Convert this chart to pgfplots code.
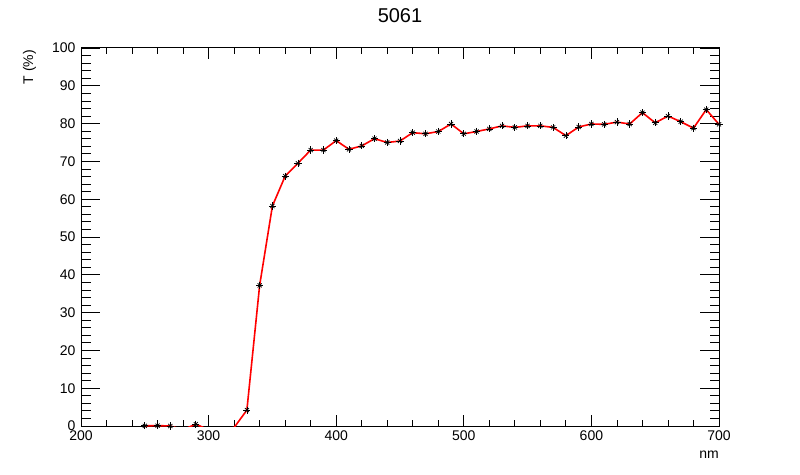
\documentclass[border=0pt]{standalone}
\usepackage{pgfplots}
\pgfplotsset{compat=1.18}
\usepackage{fontspec}
\setmainfont{Liberation Sans}
\begin{document}
\begin{tikzpicture}[x=1pt,y=1pt]
\useasboundingbox (0,0) rectangle (800,474);
\begin{axis}[
    at={(81pt,48pt)}, anchor=south west,
    scale only axis,
    width=638pt, height=378pt,
    xmin=200, xmax=700, ymin=0, ymax=100,
    xtick={200,300,...,700},
    ytick={0,10,...,100},
    minor x tick num=4,
    minor y tick num=4,
    xtick pos=both, ytick pos=both,
    tick align=inside,
    tick style={black, line width=0.8pt},
    xtick style={/pgfplots/major tick length=11pt, /pgfplots/minor tick length=5.7pt},
    ytick style={/pgfplots/major tick length=19pt, /pgfplots/minor tick length=9.5pt},
    axis line style={line width=1pt},
    ticklabel style={font=\fontsize{14}{14}\selectfont},
    xticklabel style={yshift=-1pt},
    yticklabel style={xshift=-2pt},
    /pgf/number format/assume math mode=true,
]
% transmission curve (values below zero are cut off by the frame)
\addplot[red, line width=1.6pt] coordinates {
    (250,0.05) (260,0.1) (270,0.0) (280,-1.0) (290,0.5) (300,-1.0)
    (310,-1.0) (320,-0.4) (330,4.2) (340,37.2) (350,58.2) (360,66.1)
    (370,69.5) (380,73.0) (390,73.0) (400,75.5) (410,73.2) (420,74.1)
    (430,76.0) (440,75.0) (450,75.4) (460,77.6) (470,77.3) (480,77.9)
    (490,79.9) (500,77.3) (510,77.9) (520,78.6) (530,79.4) (540,79.0)
    (550,79.4) (560,79.4) (570,79.0) (580,76.8) (590,79.1) (600,79.9)
    (610,79.8) (620,80.4) (630,79.9) (640,82.9) (650,80.2) (660,82.0)
    (670,80.5) (680,78.8) (690,83.7) (700,79.8)
};
% ROOT star markers = plus + cross
\addplot[black, only marks, mark=+, mark size=3.6pt, mark options={line width=0.7pt}] coordinates {
    (250,0.05) (260,0.1) (270,0.0) (290,0.5)
    (330,4.2) (340,37.2) (350,58.2) (360,66.1)
    (370,69.5) (380,73.0) (390,73.0) (400,75.5) (410,73.2) (420,74.1)
    (430,76.0) (440,75.0) (450,75.4) (460,77.6) (470,77.3) (480,77.9)
    (490,79.9) (500,77.3) (510,77.9) (520,78.6) (530,79.4) (540,79.0)
    (550,79.4) (560,79.4) (570,79.0) (580,76.8) (590,79.1) (600,79.9)
    (610,79.8) (620,80.4) (630,79.9) (640,82.9) (650,80.2) (660,82.0)
    (670,80.5) (680,78.8) (690,83.7) (700,79.8)
};
\addplot[black, only marks, mark=x, mark size=2.9pt, mark options={line width=0.7pt}] coordinates {
    (250,0.05) (260,0.1) (270,0.0) (290,0.5)
    (330,4.2) (340,37.2) (350,58.2) (360,66.1)
    (370,69.5) (380,73.0) (390,73.0) (400,75.5) (410,73.2) (420,74.1)
    (430,76.0) (440,75.0) (450,75.4) (460,77.6) (470,77.3) (480,77.9)
    (490,79.9) (500,77.3) (510,77.9) (520,78.6) (530,79.4) (540,79.0)
    (550,79.4) (560,79.4) (570,79.0) (580,76.8) (590,79.1) (600,79.9)
    (610,79.8) (620,80.4) (630,79.9) (640,82.9) (650,80.2) (660,82.0)
    (670,80.5) (680,78.8) (690,83.7) (700,79.8)
};
\end{axis}
\node[anchor=base, font=\fontsize{20}{20}\selectfont, inner sep=0pt] at (400,451) {5061};
\node[anchor=base east, font=\fontsize{14}{14}\selectfont, inner sep=0pt] at (719,16) {nm};
\node[rotate=90, anchor=base east, font=\fontsize{14}{14}\selectfont, inner sep=0pt] at (33,424) {T (\%)};
\end{tikzpicture}
\end{document}
